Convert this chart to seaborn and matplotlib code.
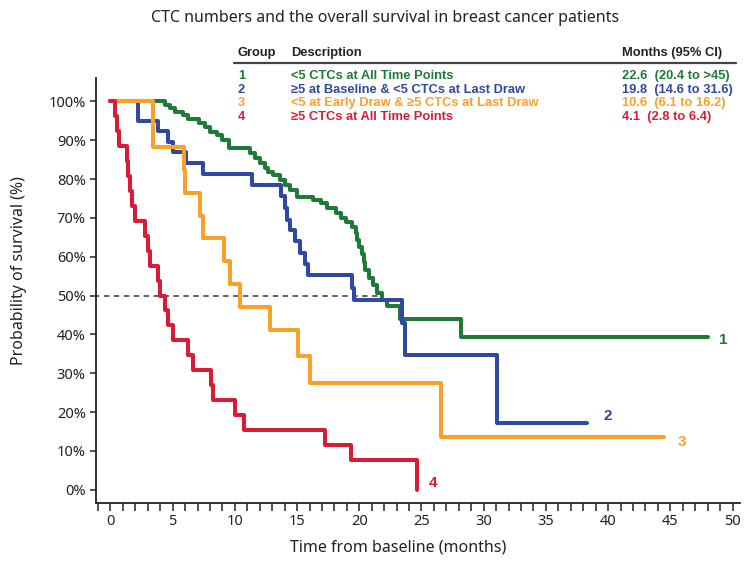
import numpy as np
import pandas as pd
import seaborn as sns
import matplotlib.pyplot as plt
from matplotlib.lines import Line2D
from matplotlib.ticker import MultipleLocator, FuncFormatter

# group info (legend table)
groups = ["1", "2", "3", "4"]
descriptions = ["<5 CTCs at All Time Points",
                "\u22655 at Baseline & <5 CTCs at Last Draw",
                "<5 at Early Draw & \u22655 CTCs at Last Draw",
                "\u22655 CTCs at All Time Points"]
months_ci = ["22.6  (20.4 to >45)", "19.8  (14.6 to 31.6)",
             "10.6  (6.1 to 16.2)", "4.1  (2.8 to 6.4)"]
colors = ["#1e7a36", "#2f48a2", "#f7a12a", "#d81c38"]

# Kaplan-Meier steps (months, survival %)
t1 = [0, 4.4, 4.8, 5.2, 5.8, 6.2, 7.1, 7.6, 8.0, 8.6, 9.0, 9.5, 11.2, 11.6, 12.0, 12.4,
      12.7, 13.1, 13.6, 14.0, 14.4, 15.0, 16.3, 16.9, 17.4, 18.1, 18.5, 18.9, 19.4, 19.7,
      19.8, 20.0, 20.2, 20.4, 20.5, 20.8, 21.1, 21.4, 21.8, 22.2, 23.3, 28.2, 48.0]
s1 = [100, 99, 98.2, 97.2, 96.4, 95.4, 94.3, 93.3, 92, 91.3, 90, 88, 86.6, 85.3, 84, 82.8,
      81.7, 81, 79.7, 78.4, 77.1, 75.3, 74.5, 73.8, 72.5, 71.2, 69.9, 68.9, 67.6, 66,
      64.3, 62.5, 60.7, 58.6, 56.6, 54.5, 52.7, 50.6, 48.8, 47.3, 44, 39.3, 39.3]

t2 = [0, 2.2, 3.8, 4.6, 5.0, 6.1, 7.4, 11.4, 13.7, 14.0, 14.2, 14.4, 14.8, 15.2, 15.6,
      15.9, 19.4, 19.6, 23.4, 23.7, 31.1, 38.3]
s2 = [100, 94.9, 92.3, 89.5, 87, 84, 81.3, 78.4, 75.5, 72.5, 69.5, 67, 64, 61, 58,
      55.3, 52, 48.8, 43, 34.7, 17.2, 17.2]

t3 = [0, 3.45, 5.9, 6.0, 7.2, 7.4, 9.1, 9.6, 10.4, 12.8, 15.1, 16.0, 26.6, 44.5]
s3 = [100, 88.2, 82.4, 76.5, 70.6, 64.7, 58.8, 52.9, 47.1, 41.2, 34.5, 27.5, 13.7, 13.7]

t4 = [0, 0.4, 0.55, 0.7, 1.35, 1.45, 1.6, 1.75, 1.95, 2.8, 3.05, 3.2, 3.85, 4.0, 4.35,
      4.65, 5.05, 6.2, 6.65, 8.1, 8.25, 10.0, 10.7, 17.25, 19.3, 24.6]
s4 = [100, 96.2, 92.3, 88.5, 84.6, 80.8, 76.9, 73.1, 69.2, 65.4, 61.5, 57.7, 53.8, 50,
      46.2, 42.3, 38.5, 34.6, 30.8, 26.9, 23.1, 19.2, 15.4, 11.5, 7.7, 0]

times = [t1, t2, t3, t4]
survs = [s1, s2, s3, s4]

df = pd.concat([pd.DataFrame({"time": t, "surv": s, "group": g})
                for g, t, s in zip(groups, times, survs)], ignore_index=True)

sns.set_style("ticks")
plt.rcParams["font.family"] = ["Noto Sans", "DejaVu Sans"]

W, H = 744, 571
fig = plt.figure(figsize=(W / 100, H / 100), dpi=100)
ax = fig.add_axes([95.5 / W, 1 - 503 / H, (740 - 95.5) / W, (503 - 78) / H])

sns.lineplot(data=df, x="time", y="surv", hue="group", hue_order=groups,
             palette=colors, drawstyle="steps-post", estimator=None, sort=False,
             linewidth=2.9, legend=False, ax=ax)

# 50% reference line
ax.plot([-1.3, 22.0], [50, 50], ls=(0, (3, 2.5)), color="#555555", lw=1.3, zorder=1)

# curve end labels
offsets = [(8, -2), (12, 5), (10, -4), (9, 5)]
for g, t, s, c, off in zip(groups, times, survs, colors, offsets):
    ax.annotate(g, (t[-1], s[-1]), xytext=off, textcoords="offset points",
                color=c, fontsize=11, fontweight="bold", family="Liberation Sans",
                va="center", ha="left")

ax.set_xlim(-1.2, 50.6)
ax.set_ylim(-3.4, 106)
ax.xaxis.set_major_locator(MultipleLocator(5))
ax.xaxis.set_minor_locator(MultipleLocator(1))
ax.set_yticks(np.arange(0, 101, 10))
ax.yaxis.set_major_formatter(FuncFormatter(lambda v, p: f"{v:.0f}%"))
ax.tick_params(axis="x", which="both", length=6, width=1.1, direction="out",
               labelsize=10.5, colors="#222222", pad=2)
ax.tick_params(axis="y", length=4, width=1.1, labelsize=10.5, colors="#222222", pad=3)
sns.despine(ax=ax)
for sp in ["left", "bottom"]:
    ax.spines[sp].set_linewidth(1.3)
    ax.spines[sp].set_color("#222222")

ax.set_xlabel("Time from baseline (months)", fontsize=11.5, color="#222222")
ax.set_ylabel("Probability of survival (%)", fontsize=11.5, color="#222222")
ax.xaxis.set_label_coords(0.469, -0.087)
ax.yaxis.set_label_coords(-0.106, 0.548)

fig.text(385 / W, 1 - 18 / H, "CTC numbers and the overall survival in breast cancer patients",
         ha="center", va="center", fontsize=11.5, color="#222222")


def fx(x):
    return x / W


def fy(y):
    return 1 - y / H


# legend table
hdr = dict(fontsize=9.3, fontweight="bold", family="Liberation Sans", color="#222222", va="center")
fig.text(fx(238), fy(53), "Group", **hdr)
fig.text(fx(291), fy(53), "Description", **hdr)
fig.text(fx(622), fy(53), "Months (95% CI)", **hdr)
fig.add_artist(Line2D([fx(234), fx(736)], [fy(63), fy(63)], color="#444444", lw=1.6))
for i, (g, d, m, c) in enumerate(zip(groups, descriptions, months_ci, colors)):
    y = fy(76 + i * 13.6)
    row = dict(fontsize=9.3, fontweight="bold", family="Liberation Sans", color=c, va="center")
    fig.text(fx(238), y, g, **row)
    fig.text(fx(291), y, d, **row)
    fig.text(fx(622), y, m, **row)

fig.savefig("out.png", dpi=100)
